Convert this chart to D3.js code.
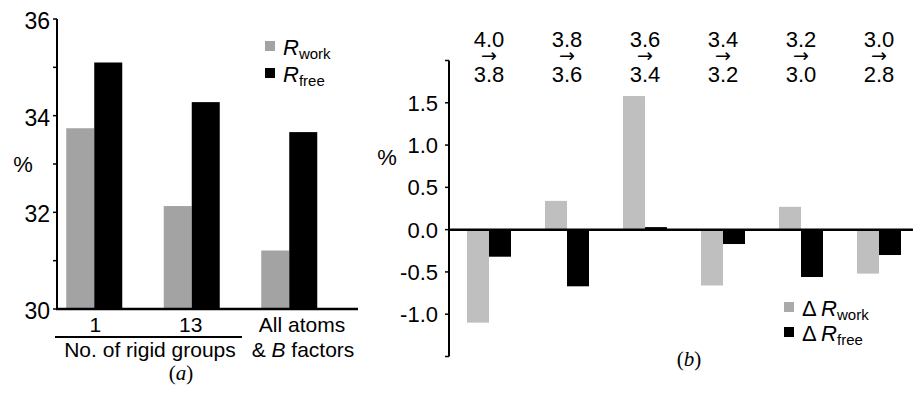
<!DOCTYPE html>
<html><head><meta charset="utf-8">
<script src="https://cdn.jsdelivr.net/npm/d3@7"></script>
<style>
body{margin:0;background:#fff;}
svg{display:block;}
text{font-family:"Liberation Sans",Arial,Helvetica,sans-serif;fill:#000;}
</style></head>
<body><svg id="c" width="914" height="393"></svg>
<script>
// Panel (a)
const groupsA = ["1","13","All atoms"];
const rworkA = [33.74, 32.13, 31.21];
const rfreeA = [35.10, 34.28, 33.66];
const ticksA = [30,32,34,36];
const minorA = [31,33,35];
// Panel (b)
const fromB = ["4.0","3.8","3.6","3.4","3.2","3.0"];
const toB   = ["3.8","3.6","3.4","3.2","3.0","2.8"];
const dRwork = [-1.10, 0.34, 1.58, -0.66, 0.27, -0.52];
const dRfree = [-0.32, -0.67, 0.03, -0.17, -0.56, -0.30];
const ticksB = [-1.0,-0.5,0.0,0.5,1.0,1.5];
const allTicksB = [-1.5,-1.0,-0.5,0.0,0.5,1.0,1.5,2.0];

const svg = d3.select("#c");
const GRAY_A = "#a3a3a3", GRAY_B = "#bfbfbf", GRAY_LEG_B="#aaaaaa";

// ---------- Panel (a) ----------
const yA = d3.scaleLinear().domain([30,36]).range([309,19]);
const xA = d3.scaleBand().domain(groupsA).range([45.5,338]);
const gA = svg.append("g");
const bwA = 28;
gA.selectAll("rect.w").data(groupsA).join("rect")
  .attr("x", d=>xA(d)+xA.bandwidth()/2-bwA).attr("width", bwA)
  .attr("y", (d,i)=>yA(rworkA[i])).attr("height",(d,i)=>yA(30)-yA(rworkA[i]))
  .attr("fill", GRAY_A);
gA.selectAll("rect.f").data(groupsA).join("rect")
  .attr("x", d=>xA(d)+xA.bandwidth()/2).attr("width", bwA)
  .attr("y", (d,i)=>yA(rfreeA[i])).attr("height",(d,i)=>yA(30)-yA(rfreeA[i]))
  .attr("fill", "#000");
// axes
gA.append("line").attr("x1",57).attr("x2",57).attr("y1",yA(36)).attr("y2",yA(30)+1)
  .attr("stroke","#000").attr("stroke-width",2);
gA.append("line").attr("x1",56).attr("x2",358).attr("y1",yA(30)).attr("y2",yA(30))
  .attr("stroke","#000").attr("stroke-width",2.5);
gA.selectAll("line.t").data(ticksA.concat(minorA)).join("line")
  .attr("x1",53).attr("x2",57).attr("y1",d=>yA(d)).attr("y2",d=>yA(d))
  .attr("stroke","#000").attr("stroke-width",1.5);
gA.selectAll("text.tl").data(ticksA).join("text")
  .attr("x",50).attr("y",d=>yA(d)+10).attr("text-anchor","end")
  .attr("font-size",23).text(d=>d);
gA.append("text").attr("x",23).attr("y",172).attr("text-anchor","middle").attr("font-size",22).text("%");
// category labels
gA.append("text").attr("x",xA("1")+xA.bandwidth()/2+1).attr("y",332).attr("text-anchor","middle").attr("font-size",21).text("1");
gA.append("text").attr("x",xA("13")+xA.bandwidth()/2-1).attr("y",332).attr("text-anchor","middle").attr("font-size",21).text("13");
gA.append("line").attr("x1",55).attr("x2",242).attr("y1",337).attr("y2",337).attr("stroke","#000").attr("stroke-width",2);
gA.append("text").attr("x",150).attr("y",357).attr("text-anchor","middle").attr("font-size",21).text("No. of rigid groups");
gA.append("text").attr("x",302).attr("y",332).attr("text-anchor","middle").attr("font-size",21).text("All atoms");
const bf = gA.append("text").attr("x",303).attr("y",357).attr("text-anchor","middle").attr("font-size",21);
bf.append("tspan").text("& ");
bf.append("tspan").attr("font-style","italic").text("B");
bf.append("tspan").text(" factors");
gA.append("text").attr("x",181).attr("y",380).attr("text-anchor","middle")
  .style("font-family","'Liberation Serif','Times New Roman',serif").attr("font-size",21)
  .html('(<tspan font-style="italic">a</tspan>)');
// legends
function legendR(g, x, y, color, sub, delta){
  g.append("rect").attr("x",x).attr("y",y-14).attr("width",10).attr("height",10).attr("fill",color);
  const t = g.append("text").attr("x",x+18).attr("y",y).attr("font-size",22);
  if(delta) t.append("tspan").text("\u0394\u2009");
  t.append("tspan").attr("font-style","italic").text("R");
  t.append("tspan").attr("font-size",15).attr("dy",4).text(sub);
}
legendR(gA, 265, 55, GRAY_A, "work", false);
legendR(gA, 265, 82, "#000", "free", false);

// ---------- Panel (b) ----------
const yB = d3.scaleLinear().domain([-1.5,2.0]).range([356.5,60.5]);
const xB = d3.scaleBand().domain(fromB.map((d,i)=>i)).range([450,918]);
const gB = svg.append("g");
const bwB = 22;
function barY(v){return Math.min(yB(v),yB(0));}
function barH(v){return Math.abs(yB(v)-yB(0));}
gB.selectAll("rect.w").data(dRwork).join("rect")
  .attr("x",(d,i)=>xB(i)+xB.bandwidth()/2-bwB).attr("width",bwB)
  .attr("y",d=>barY(d)).attr("height",d=>barH(d)).attr("fill",GRAY_B);
gB.selectAll("rect.f").data(dRfree).join("rect")
  .attr("x",(d,i)=>xB(i)+xB.bandwidth()/2).attr("width",bwB)
  .attr("y",d=>barY(d)).attr("height",d=>barH(d)).attr("fill","#000");
gB.append("line").attr("x1",449).attr("x2",449).attr("y1",yB(2.0)).attr("y2",yB(-1.5))
  .attr("stroke","#000").attr("stroke-width",2);
gB.append("line").attr("x1",448).attr("x2",913).attr("y1",yB(0)).attr("y2",yB(0))
  .attr("stroke","#000").attr("stroke-width",2.5);
gB.selectAll("line.t").data(allTicksB).join("line")
  .attr("x1",445).attr("x2",449).attr("y1",d=>yB(d)).attr("y2",d=>yB(d))
  .attr("stroke","#000").attr("stroke-width",1.5);
gB.selectAll("text.tl").data(ticksB).join("text")
  .attr("x",438).attr("y",d=>yB(d)+8).attr("text-anchor","end")
  .attr("font-size",22).text(d=>(d<0?"-":"")+Math.abs(d).toFixed(1));
gB.append("text").attr("x",387).attr("y",165).attr("text-anchor","middle").attr("font-size",22).text("%");
// top labels: one text per group, stacked tspans
const tl = gB.selectAll("text.top").data(fromB).join("text")
  .attr("text-anchor","middle").attr("font-size",22);
tl.append("tspan").attr("x",(d,i)=>xB(i)+xB.bandwidth()/2).attr("y",47).text(d=>d);
tl.append("tspan").attr("x",(d,i)=>xB(i)+xB.bandwidth()/2).attr("y",62)
  .attr("font-size",19).style("font-family","'DejaVu Sans',sans-serif").text("\u2192");
tl.append("tspan").attr("x",(d,i)=>xB(i)+xB.bandwidth()/2).attr("y",82).text((d,i)=>toB[i]);
gB.append("text").attr("x",689).attr("y",366).attr("text-anchor","middle")
  .style("font-family","'Liberation Serif','Times New Roman',serif").attr("font-size",21)
  .html('(<tspan font-style="italic">b</tspan>)');
legendR(gB, 784, 316, GRAY_LEG_B, "work", true);
legendR(gB, 784, 341, "#000", "free", true);
</script></body></html>
